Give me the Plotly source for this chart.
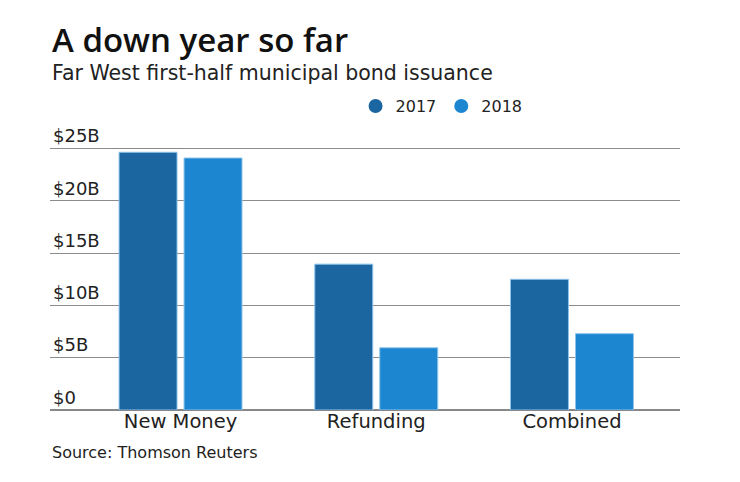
import plotly.graph_objects as go

categories = ["New Money", "Refunding", "Combined"]
values_2017 = [24.65, 13.95, 12.5]
values_2018 = [24.1, 5.95, 7.3]
series_names = ["2017", "2018"]
tick_values = [0, 5, 10, 15, 20, 25]
tick_labels = ["$0", "$5B", "$10B", "$15B", "$20B", "$25B"]
title_text = "A down year so far"
subtitle_text = "Far West first-half municipal bond issuance"
source_text = "Source: Thomson Reuters"

c2017 = "#1b65a0"
c2018 = "#1d86d0"
FONT = "DejaVu Sans, Open Sans, sans-serif"
TITLE_FONT = "Open Sans, DejaVu Sans, sans-serif"

T = 104  # plot top in px
B = 80

fig = go.Figure()
fig.add_trace(go.Bar(x=categories, y=values_2017, name=series_names[0],
                     marker=dict(color=c2017, line=dict(color="#8cc3ea", width=1)),
                     showlegend=False))
fig.add_trace(go.Bar(x=categories, y=values_2018, name=series_names[1],
                     marker=dict(color=c2018, line=dict(color="#8cc3ea", width=1)),
                     showlegend=False))
# legend-only markers (circles)
for nm, col in zip(series_names, [c2017, c2018]):
    fig.add_trace(go.Scatter(x=[None], y=[None], mode="markers", name=nm,
                             marker=dict(color=col, size=14, symbol="circle")))

fig.update_layout(
    template="none",
    width=740, height=482,
    margin=dict(l=42, r=68, t=T, b=B, autoexpand=False),
    paper_bgcolor="white", plot_bgcolor="white",
    barmode="group", bargap=0.336, bargroupgap=0.108,
    font=dict(family=FONT, color="#222222"),
    showlegend=True,
    legend=dict(orientation="h", x=0.485, y=1.02, xanchor="left", yanchor="middle",
                font=dict(size=16, color="#222222"), itemwidth=30,
                bgcolor="rgba(0,0,0,0)"),
    xaxis=dict(range=[-0.667, 2.552], showgrid=False, showline=False, zeroline=False,
               automargin=False, ticks="", ticklabelstandoff=-3,
               tickfont=dict(size=19.5, color="#222222")),
    yaxis=dict(range=[0, 28.5], tickvals=tick_values, ticktext=tick_labels,
               automargin=False,
               showgrid=True, gridcolor="#8c8c8c", gridwidth=1,
               zeroline=True, zerolinecolor="#888888", zerolinewidth=2,
               ticks="", ticklabelposition="inside top",
               tickfont=dict(size=18, color="#222222")),
    annotations=[
        dict(text=title_text, xref="paper", yref="paper", x=0, y=1.0,
             xanchor="left", yanchor="middle", yshift=73, showarrow=False,
             font=dict(size=33, color="#111111", family=TITLE_FONT, weight=600)),
        dict(text=subtitle_text, xref="paper", yref="paper", x=0, y=1.0,
             xanchor="left", yanchor="middle", yshift=39.0, showarrow=False,
             font=dict(size=20.5, color="#222222", family=FONT)),
        dict(text=source_text, xref="paper", yref="paper", x=0, y=0,
             xanchor="left", yanchor="middle", yshift=-42, showarrow=False,
             font=dict(size=16, color="#222222", family=FONT)),
    ],
)

fig.write_html("out.html")
